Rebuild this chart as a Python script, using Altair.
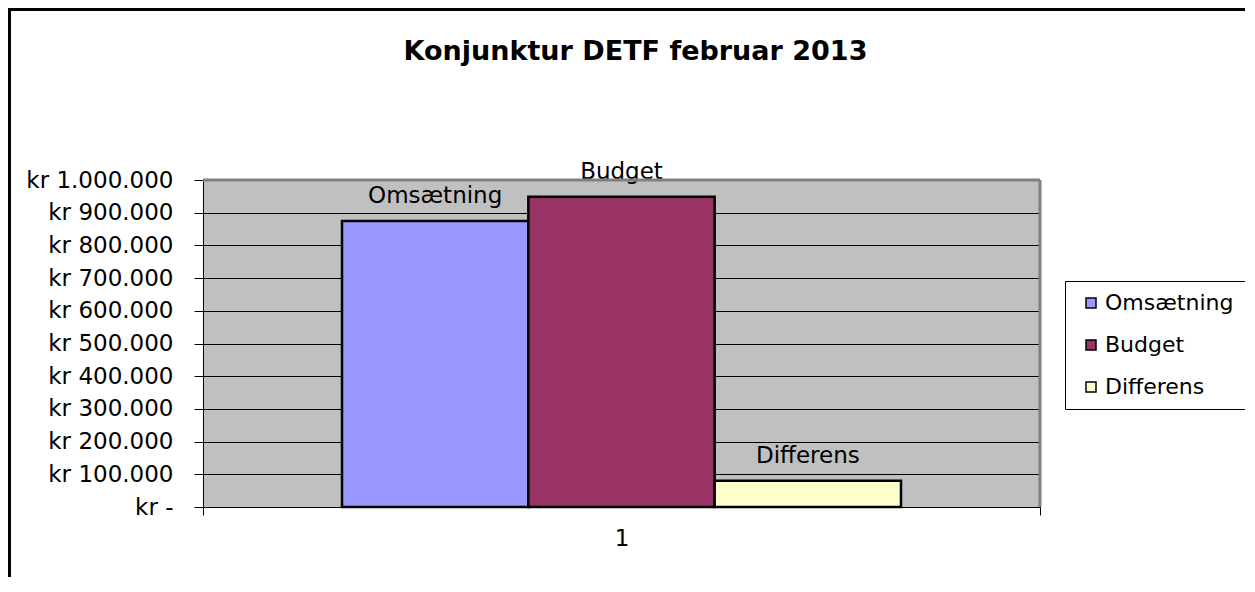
import altair as alt
import pandas as pd

# ---- data ----
series = ["Omsætning", "Budget", "Differens"]
values = [875000, 949000, 80000]
categories = ["1", "1", "1"]
colors = ["#9999FF", "#993366", "#FFFFCC"]
y_ticks = [0, 100000, 200000, 300000, 400000, 500000, 600000, 700000, 800000, 900000, 1000000]
title_text = "Konjunktur DETF februar 2013"

df = pd.DataFrame({"cat": categories, "serie": series, "value": values})
one = pd.DataFrame({"t": [title_text]})

W, H = 837, 327
PAD_L, PAD_T, PAD_R, PAD_B = 195, 172, 205, 70
FONT = "DejaVu Sans"

x_enc = alt.X(
    "cat:N",
    scale=alt.Scale(paddingInner=0, paddingOuter=0),
    axis=alt.Axis(
        title=None, labelAngle=0, tickBand="extent", ticks=True, tickSize=8,
        tickColor="black", domainColor="black", labelFontSize=23, labelFont=FONT,
        labelColor="black", labelPadding=12, grid=False,
    ),
)
xoff_enc = alt.XOffset(
    "serie:N", sort=series, scale=alt.Scale(domain=series, paddingInner=0, paddingOuter=0.746)
)
label_expr = (
    "datum.value == 0 ? 'kr -\u00a0\u00a0' : "
    "'kr ' + replace(replace(format(datum.value, ','), ',', '.'), ',', '.')"
)
y_enc = alt.Y(
    "value:Q",
    scale=alt.Scale(domain=[0, 1000000], nice=False),
    axis=alt.Axis(
        title=None, values=y_ticks, labelExpr=label_expr, grid=True, gridColor="black",
        gridWidth=1, tickSize=9, tickColor="black", domainColor="black",
        labelFontSize=23, labelFont=FONT, labelPadding=21, labelColor="black",
    ),
)
color_enc = alt.Color(
    "serie:N",
    sort=series,
    scale=alt.Scale(domain=series, range=colors),
    legend=alt.Legend(
        title=None, orient="none", legendX=862, legendY=101, fillColor="white",
        strokeColor="black", padding=11, symbolType="square", symbolSize=100,
        symbolStrokeColor="black", symbolStrokeWidth=1.5, symbolOffset=4,
        labelOffset=3, labelFont=FONT, labelFontSize=22, labelColor="black",
        rowPadding=20, labelLimit=300,
    ),
)

base = alt.Chart(df)
bars = base.mark_bar(stroke="black", strokeWidth=2.5).encode(
    x=x_enc, xOffset=xoff_enc, y=y_enc, color=color_enc
)
labels = base.mark_text(
    font=FONT, fontSize=23, dy=-25, baseline="middle", color="black"
).encode(x=x_enc, xOffset=xoff_enc, y=y_enc, text="serie:N")

title = alt.Chart(one).mark_text(
    font=FONT, fontSize=27, fontWeight="bold", baseline="alphabetic", align="center", color="black"
).encode(x=alt.value(432.5), y=alt.value(-120), text="t:N")

top_edge = alt.Chart(one).mark_rule(color="#808080", strokeWidth=3).encode(
    x=alt.value(0), x2=alt.value(W), y=alt.value(0)
)
right_edge = alt.Chart(one).mark_rule(color="#808080", strokeWidth=3).encode(
    x=alt.value(W), y=alt.value(0), y2=alt.value(H)
)
border_left = alt.Chart(one).mark_rule(color="black", strokeWidth=3).encode(
    x=alt.value(-PAD_L + 1.5), y=alt.value(-PAD_T), y2=alt.value(H + PAD_B)
)
border_top = alt.Chart(one).mark_rule(color="black", strokeWidth=3).encode(
    x=alt.value(-PAD_L), x2=alt.value(W + PAD_R), y=alt.value(-PAD_T + 1.5)
)

chart = (
    alt.layer(bars, labels, title, top_edge, right_edge, border_left, border_top)
    .properties(
        width=W, height=H,
        autosize=alt.AutoSizeParams(type="none"),
        padding={"left": PAD_L, "top": PAD_T, "right": PAD_R, "bottom": PAD_B},
        background="white",
    )
    .configure_view(fill="#C0C0C0", stroke="transparent")
)

chart.save("out.html", embed_options={"renderer": "svg", "actions": False})
